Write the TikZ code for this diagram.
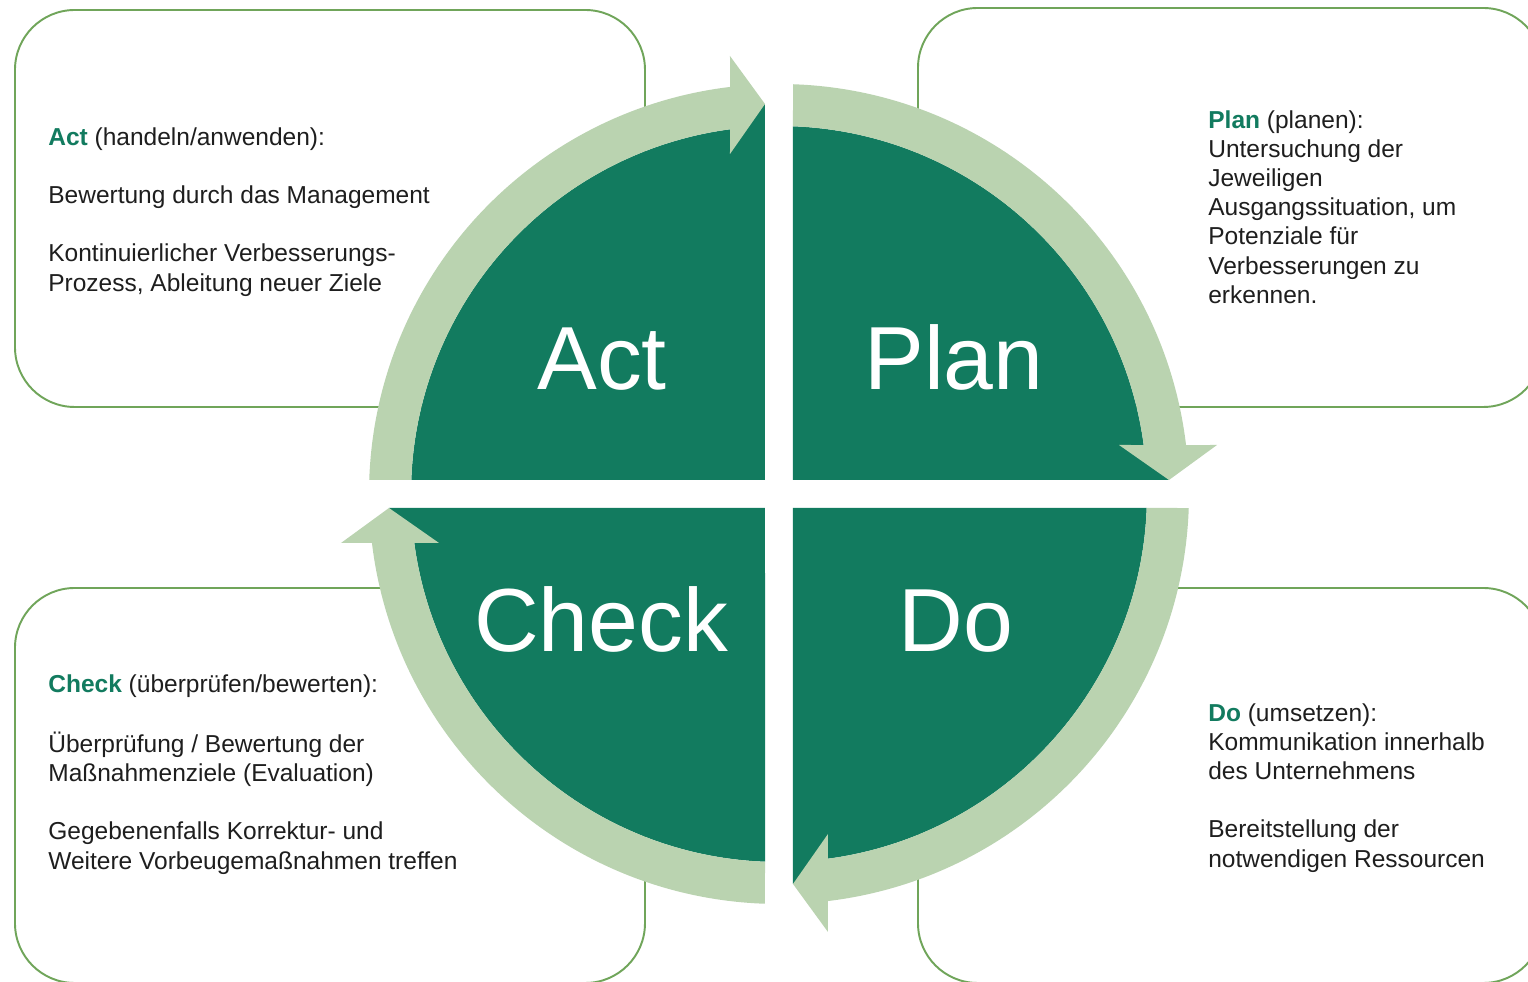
\documentclass[tikz,border=0pt]{standalone}
\usepackage{fontspec}
\setmainfont{Liberation Sans}
\definecolor{darkgr}{HTML}{127B5F}
\definecolor{lightgr}{HTML}{BAD3B0}
\definecolor{boxgr}{HTML}{70A55A}
\definecolor{txt}{HTML}{1E1E1E}
\tikzset{
  infobox/.style={draw=boxgr, line width=1.1pt, fill=white, rounded corners=34pt},
  quad/.style={fill=darkgr},
  cyclearrow/.style={fill=lightgr},
  biglabel/.style={text=white, font=\fontsize{51pt}{60pt}\selectfont, anchor=base, inner sep=0},
  bodytext/.style={text=txt, font=\fontsize{13.95pt}{16.6pt}\selectfont, align=left, anchor=north west, inner sep=0}
}
\begin{document}
\begin{tikzpicture}[x=0.02cm,y=0.02cm]
\useasboundingbox (-779,494) rectangle (749,-488);
\clip (-779,494) rectangle (749,-488);
% boxes
\draw[infobox] (-764,484) rectangle (-134,87);
\draw[infobox] (139,486) rectangle (764,87);
\draw[infobox] (-764,-94) rectangle (-134,-489);
\draw[infobox] (139,-94) rectangle (764,-489);
% quadrants and arrows
\foreach \r in {0,-90,-180,-270}{
  \begin{scope}[rotate=\r]
    \fill[quad] (-14,14) -- (177.82:368) arc[start angle=177.82,end angle=97.65,radius=368] -- (-14,390) -- cycle;
    \fill[cyclearrow] (178.04:410) arc[start angle=178.04,end angle=96.86,radius=410] -- (-49,438) -- (-14,390) -- (-49,340) -- (97.65:368) arc[start angle=97.65,end angle=177.82,radius=368] -- cycle;
  \end{scope}
}
% big labels
\node[biglabel] (act) at (-177,104) {Act};
\node[biglabel] (plan) at (175,104) {Plan};
\node[biglabel] (check) at (-178,-158) {Check};
\node[biglabel] (do) at (177,-158) {Do};
% texts
\node[bodytext] (acttext) at (-731,369.5) {\strut{\color{darkgr}\bfseries Act} (handeln/anwenden):\\[16.6pt]
Bewertung durch das Management\\[16.6pt]
Kontinuierlicher Verbesserungs-\\
Prozess, Ableitung neuer Ziele};
\node[bodytext] (plantext) at (429,386.5) {\strut{\color{darkgr}\bfseries Plan} (planen):\\
Untersuchung der\\
Jeweiligen\\
Ausgangssituation, um\\
Potenziale für\\
Verbesserungen zu\\
erkennen.};
\node[bodytext] (checktext) at (-731,-177.5) {\strut{\color{darkgr}\bfseries Check} (überprüfen/bewerten):\\[16.6pt]
Überprüfung / Bewertung der\\
Maßnahmenziele (Evaluation)\\[16.6pt]
Gegebenenfalls Korrektur- und\\
Weitere Vorbeugemaßnahmen treffen};
\node[bodytext] (dotext) at (429,-206.5) {\strut{\color{darkgr}\bfseries Do} (umsetzen):\\
Kommunikation innerhalb\\
des Unternehmens\\[16.6pt]
Bereitstellung der\\
notwendigen Ressourcen};
\end{tikzpicture}
\end{document}
